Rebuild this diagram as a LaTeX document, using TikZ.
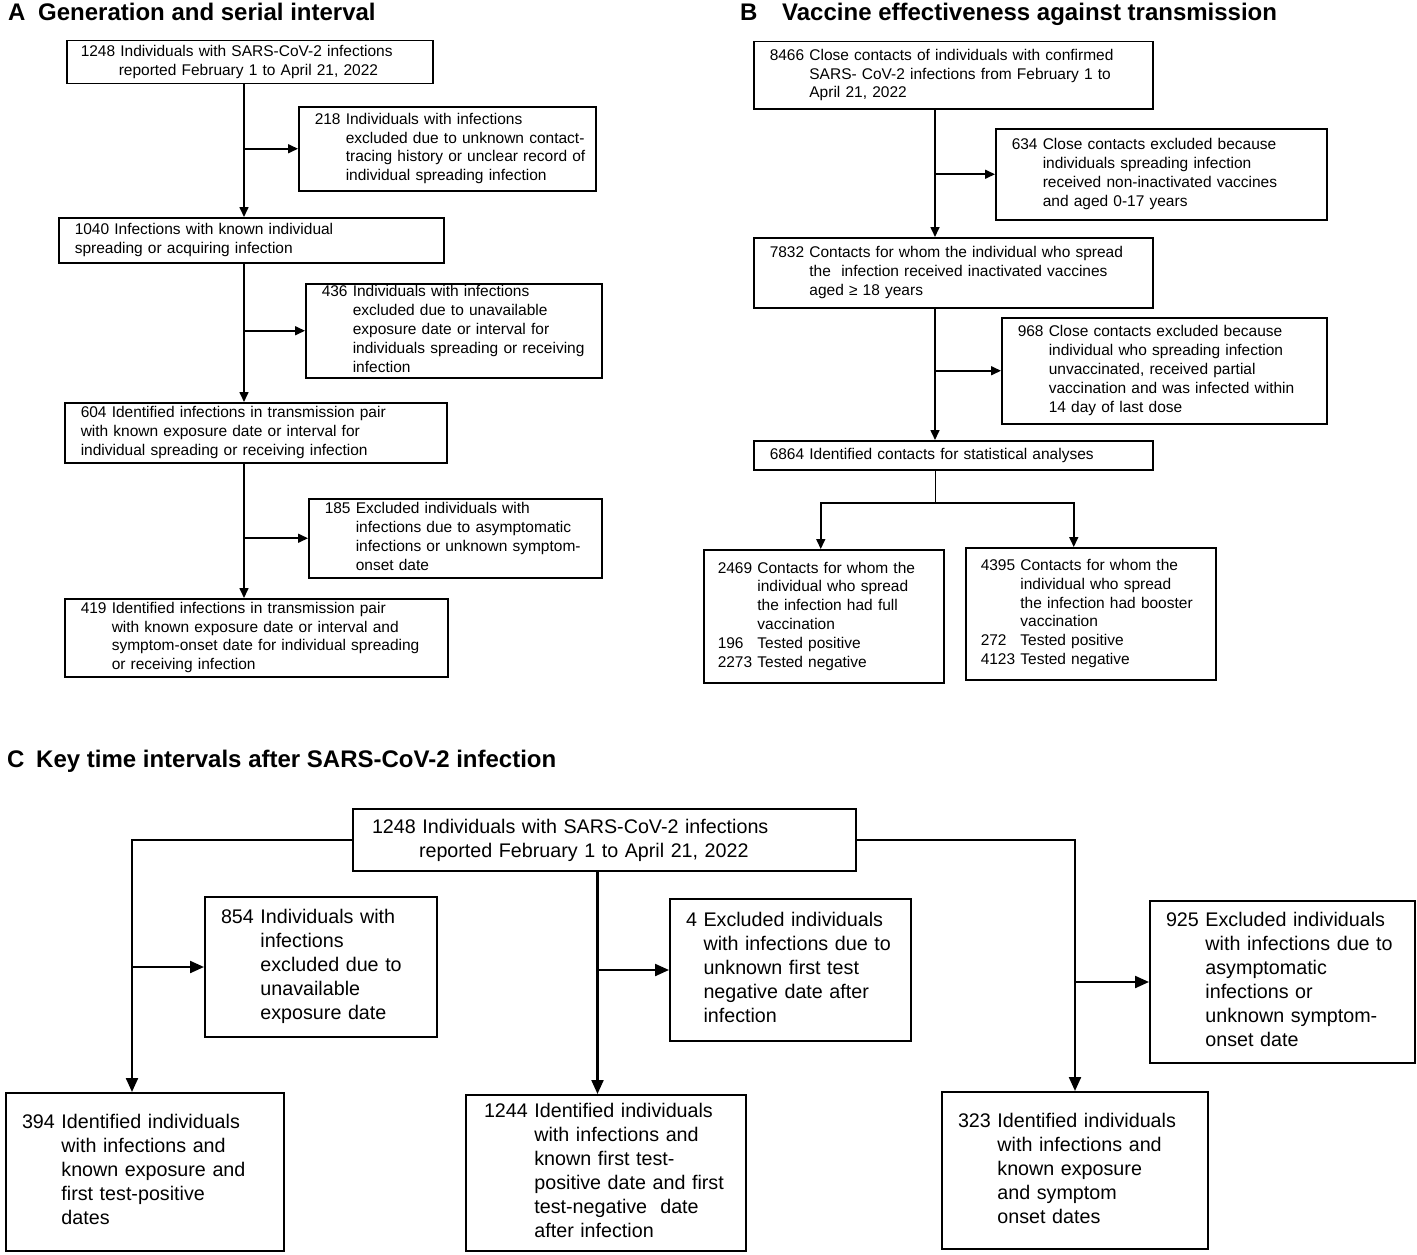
\documentclass[tikz,border=0pt]{standalone}
\usepackage{fontspec}
\setmainfont{Liberation Sans}
\usetikzlibrary{arrows.meta}
\setlength{\parindent}{0pt}
% number in front, the rest of the lines hang under the first word
\newcommand{\hang}[2]{\begin{tabular}[t]{@{}l@{\ }l@{}}#1 & #2\end{tabular}}

\begin{document}
\begin{tikzpicture}[x=1pt, y=-1pt, line join=miter,
  box/.style={draw, line width=1.5pt, anchor=north west, inner xsep=16pt, inner ysep=0pt, align=left, font=\fontsize{15.5}{18.8}\selectfont},
  cbox/.style={box, line width=2pt, font=\fontsize{19.7}{24}\selectfont},
  sz/.style n args={3}{minimum width=#1pt, minimum height=#2pt, text width=#3pt},
  arr/.style={line width=1.6pt, -{Triangle[length=10pt,width=9pt]}},
  carr/.style={line width=2.2pt, -{Triangle[length=14pt,width=12pt]}},
  ttl/.style={anchor=base west, inner sep=0pt, font=\fontsize{24}{28}\selectfont\bfseries}]
\useasboundingbox (0,0) rectangle (1417,1255);

% titles
\node[ttl] (tA) at (8,21) {A};
\node[ttl] (tAt) at (38,21) {Generation and serial interval};
\node[ttl] (tB) at (740,21) {B};
\node[ttl] (tBt) at (782,21) {Vaccine effectiveness against transmission};
\node[ttl] (tC) at (7,767) {C};
\node[ttl] (tCt) at (36,767) {Key time intervals after SARS-CoV-2 infection};

% panel A
\node[box, sz={366}{43}{338}, inner xsep=14pt] (a1) at (66,40) {1248 Individuals with SARS-CoV-2 infections\\\hspace*{38pt}reported February 1 to April 21, 2022};
\node[box, sz={297}{84}{265}] (ea1) at (298,106) {\hang{218}{Individuals with infections\\ & excluded due to unknown contact-\\ & tracing history or unclear record of\\ & individual spreading infection}};
\node[box, sz={385}{45}{353}] (a2) at (58,217) {1040 Infections with known individual\\spreading or acquiring infection};
\node[box, sz={296}{94}{264}] (ea2) at (305,283) {\hang{436}{Individuals with infections\\ & excluded due to unavailable\\ & exposure date or interval for\\ & individuals spreading or receiving\\ & infection}};
\node[box, sz={382}{60}{350}] (a3) at (64,402) {604 Identified infections in transmission pair\\with known exposure date or interval for\\individual spreading or receiving infection};
\node[box, sz={293}{79}{261}] (ea3) at (308,498) {\hang{185}{Excluded individuals with\\ & infections due to asymptomatic\\ & infections or unknown symptom-\\ & onset date}};
\node[box, sz={383}{78}{351}] (a4) at (64,598) {\hang{419}{Identified infections in transmission pair\\ & with known exposure date or interval and\\ & symptom-onset date for individual spreading\\ & or receiving infection}};

\coordinate (ax) at (244,0);
\draw[arr] (ax |- a1.south) -- (ax |- a2.north);
\draw[arr] (ax |- ea1.west) -- (ea1.west);
\draw[arr] (ax |- a2.south) -- (ax |- a3.north);
\draw[arr] (ax |- ea2.west) -- (ea2.west);
\draw[arr] (ax |- a3.south) -- (ax |- a4.north);
\draw[arr] (ax |- ea3.west) -- (ea3.west);

% panel B
\node[box, sz={399}{67}{367}] (b1) at (753,41) {\hang{8466}{Close contacts of individuals with confirmed\\ & SARS- CoV-2 infections from February 1 to\\ & April 21, 2022}};
\node[box, sz={331}{91}{299}] (eb1) at (995,128) {\hang{634}{Close contacts excluded because\\ & individuals spreading infection\\ & received non-inactivated vaccines\\ & and aged 0-17 years}};
\node[box, sz={399}{70}{367}] (b2) at (753,237) {\hang{7832}{Contacts for whom the individual who spread\\ & the\ \ infection received inactivated vaccines\\ & aged ≥ 18 years}};
\node[box, sz={325}{106}{293}] (eb2) at (1001,317) {\hang{968}{Close contacts excluded because\\ & individual who spreading infection\\ & unvaccinated, received partial\\ & vaccination and was infected within\\ & 14 day of last dose}};
\node[box, sz={399}{29}{367}] (b3) at (753,440) {6864 Identified contacts for statistical analyses};
\node[box, sz={240}{133}{212}, inner xsep=14pt] (b4) at (703,549) {\hang{2469}{Contacts for whom the\\ & individual who spread\\ & the infection had full\\ & vaccination\\ 196 & Tested positive\\ 2273 & Tested negative}};
\node[box, sz={250}{132}{220}, inner xsep=15pt] (b5) at (965,547) {\hang{4395}{Contacts for whom the\\ & individual who spread\\ & the infection had booster\\ & vaccination\\ 272 & Tested positive\\ 4123 & Tested negative}};

\coordinate (bx) at (935,0);
\coordinate (bsplit) at (935,503);
\draw[arr] (bx |- b1.south) -- (bx |- b2.north);
\draw[arr] (bx |- eb1.west) -- (eb1.west);
\draw[arr] (bx |- b2.south) -- (bx |- b3.north);
\draw[arr] (bx |- eb2.west) -- (eb2.west);
\draw[line width=0.8pt] (bx |- b3.south) -- (bsplit);
\draw[arr] (bsplit) -| ([xshift=-3pt]b4.north);
\draw[arr] (bsplit) -| ([xshift=-17pt]b5.north);

% panel C
\node[cbox, sz={503}{62}{465}, inner xsep=19pt] (c0) at (352,808) {1248 Individuals with SARS-CoV-2 infections\\\hspace*{47pt}reported February 1 to April 21, 2022};
\node[cbox, sz={232}{140}{200}] (c854) at (204,896) {\hang{854}{Individuals with\\ & infections\\ & excluded due to\\ & unavailable\\ & exposure date}};
\node[cbox, sz={241}{142}{209}] (c4) at (669,898) {\hang{4}{Excluded individuals\\ & with infections due to\\ & unknown first test\\ & negative date after\\ & infection}};
\node[cbox, sz={265}{162}{233}] (c925) at (1149,900) {\hang{925}{Excluded individuals\\ & with infections due to\\ & asymptomatic\\ & infections or\\ & unknown symptom-\\ & onset date}};
\node[cbox, sz={278}{158}{246}] (c394) at (5,1092) {\hang{394}{Identified individuals\\ & with infections and\\ & known exposure and\\ & first test-positive\\ & dates}};
\node[cbox, sz={280}{156}{244}, inner xsep=18pt] (c1244) at (465,1094) {\hang{1244}{Identified individuals\\ & with infections and\\ & known first test-\\ & positive date and first\\ & test-negative\ \ date\\ & after infection}};
\node[cbox, sz={266}{157}{234}] (c323) at (941,1091) {\hang{323}{Identified individuals\\ & with infections and\\ & known exposure\\ & and symptom\\ & onset dates}};

\draw[carr] (c0.west) -| ([xshift=-13pt]c394.north);
\draw[carr] ([xshift=-13pt]c394.north |- c854.west) -- (c854.west);
\draw[carr] ([xshift=-7pt]c0.south) -- ([xshift=-7pt]c0.south |- c1244.north);
\draw[carr] ([xshift=-7pt]c0.south |- c4.west) -- (c4.west);
\draw[carr] (c0.east) -| (c323.north);
\draw[carr] (c323.north |- c925.west) -- (c925.west);
\end{tikzpicture}
\end{document}
